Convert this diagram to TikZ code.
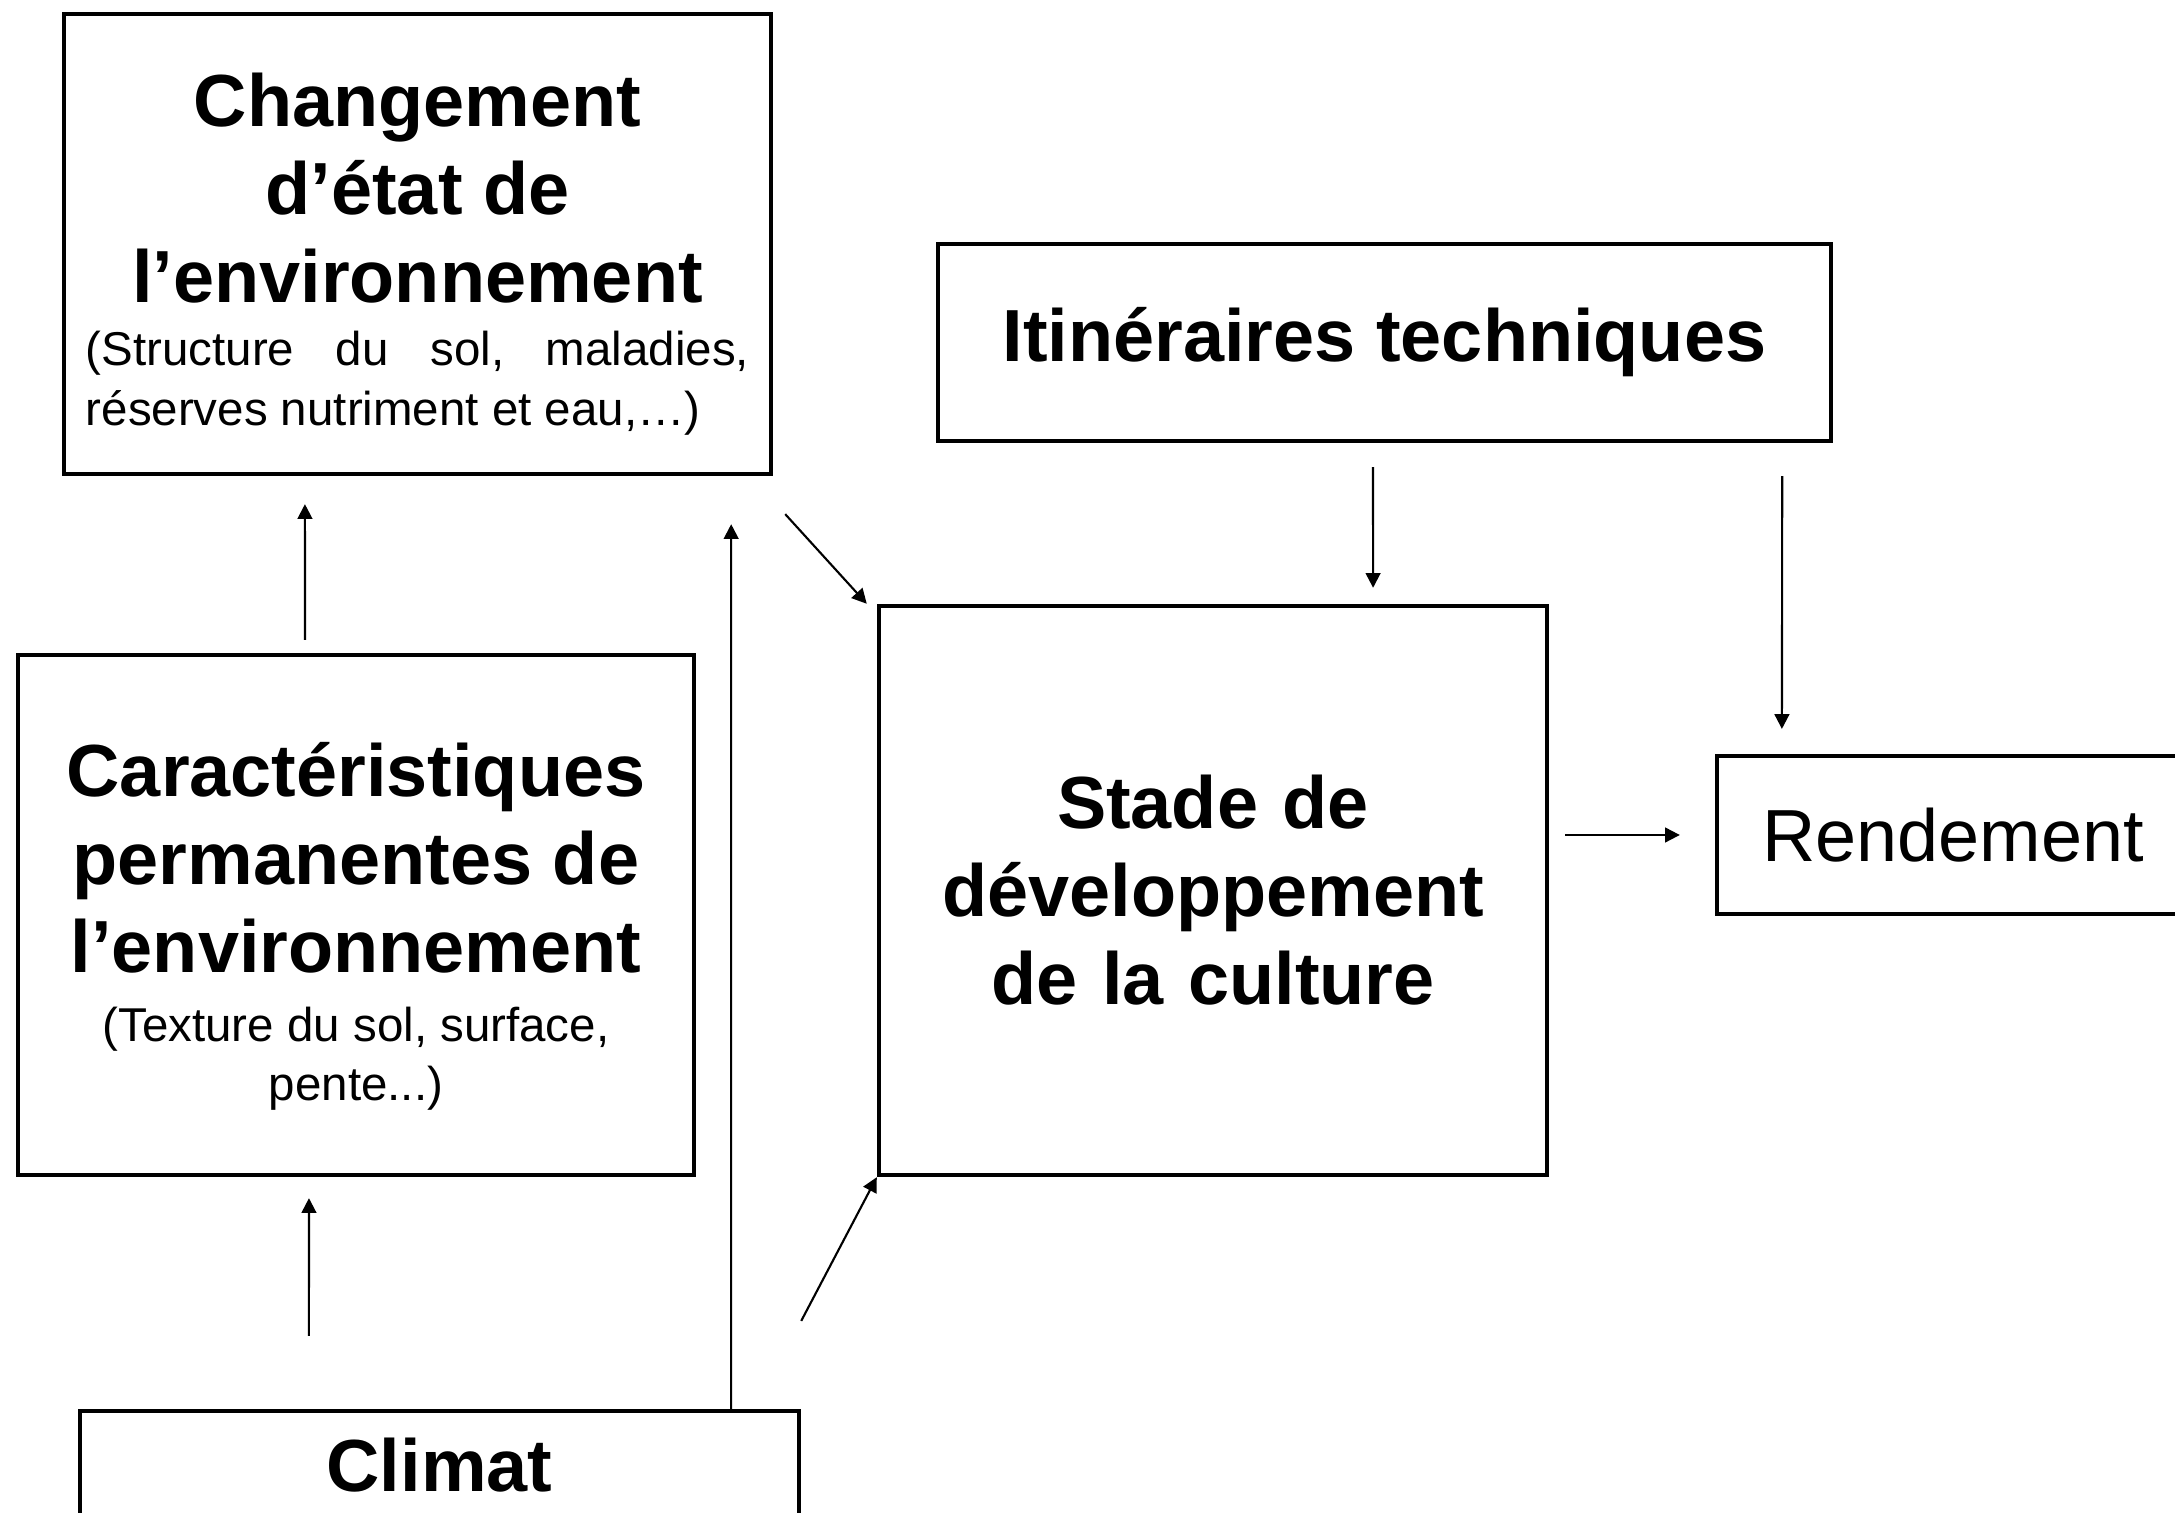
\documentclass[tikz,border=0pt]{standalone}
\usepackage{fontspec}
\setmainfont{Liberation Sans}
\usetikzlibrary{arrows.meta}
\newcommand{\bigtxt}{\fontsize{21}{25}\selectfont\bfseries\spaceskip=0.278em\relax}
\newcommand{\smalltxt}{\fontsize{13.5}{17}\selectfont\spaceskip=0.278em\relax}

\begin{document}
\begin{tikzpicture}[x=0.01cm, y=-0.01cm,
    box/.style={draw, line width=1.15pt, align=center, inner sep=0pt},
    arr/.style={line width=0.6pt, -{Triangle[length=4.2pt,width=4.2pt]}}]
\useasboundingbox (0,0) rectangle (2175,1513);

    \node[box, minimum width=7.07cm, minimum height=4.6cm, text width=6.63cm] (chgt) at (417.5,244)
        {{\bigtxt\rule{0pt}{21pt}Changement\\ d’état de\\ l’environnement\par}\vspace{1pt}
         {\smalltxt\makebox[6.63cm][s]{(Structure\hfill du\hfill sol,\hfill maladies,}\\
          \makebox[6.63cm][l]{réserves nutriment et eau,…)}\par}};
    \node[box, minimum width=8.93cm, minimum height=1.97cm, font=\bigtxt] (itk) at (1384.5,342.5)
        {Itinéraires techniques};
    \node[box, minimum width=6.76cm, minimum height=5.2cm, text width=6.4cm] (carac) at (356,915)
        {{\bigtxt\rule{0pt}{22pt}Caractéristiques\\ permanentes de\\ l’environnement\par}\vspace{2.5pt}
         {\smalltxt (Texture du sol, surface,\\ pente...)\par}};
    \node[box, minimum width=6.68cm, minimum height=5.69cm, text width=6.2cm, font=\bigtxt] (stade) at (1213,890.5)
        {Stade de\\ développement\\ de la culture};
    \node[box, minimum width=4.72cm, minimum height=1.58cm, font=\fontsize{21}{25}\selectfont] (rdt) at (1953,835)
        {Rendement};
    \node[box, minimum width=7.19cm, minimum height=1.08cm, font=\bigtxt] (climat) at (439.5,1465)
        {Climat};

    \draw[arr] ([xshift=-0.51cm, yshift=0.13cm]carac.north) -- ([xshift=-1.125cm, yshift=-0.28cm]chgt.south);
    \draw[arr] ([xshift=-1.305cm, yshift=0.73cm]climat.north) -- ([xshift=-0.47cm, yshift=-0.21cm]carac.south);
    \draw[arr] ([xshift=2.915cm]climat.north) -- ([xshift=3.135cm, yshift=-0.48cm]chgt.south);
    \draw[arr] ([xshift=0.12cm, yshift=-0.38cm]chgt.south east) -- ([xshift=-0.1cm]stade.north west);
    \draw[arr] ([yshift=0.88cm]climat.north east) -- (stade.south west);
    \draw[arr] ([xshift=-0.115cm, yshift=-0.24cm]itk.south) -- ([xshift=1.6cm, yshift=0.16cm]stade.north);
    \draw[arr] ([xshift=3.975cm, yshift=-0.33cm]itk.south) -- ([xshift=-1.71cm, yshift=0.25cm]rdt.north);
    \draw[arr, shorten <=0.16cm, shorten >=0.35cm] (stade.east |- rdt.west) -- (rdt.west);
\end{tikzpicture}
\end{document}
